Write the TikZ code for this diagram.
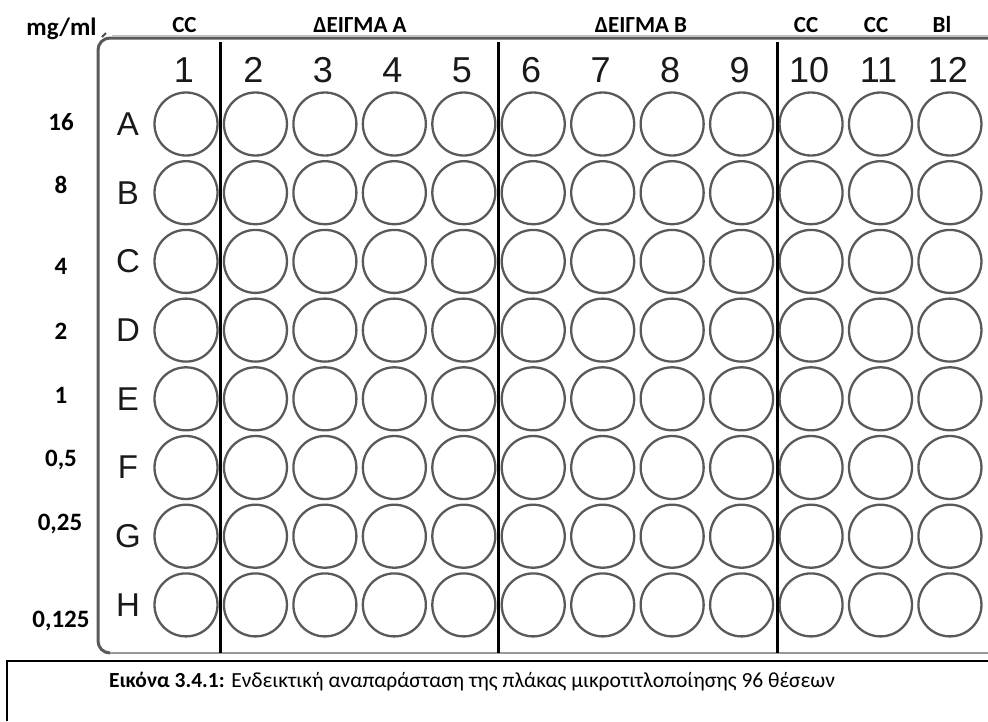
\documentclass[tikz,border=0pt]{standalone}
\usepackage{fontspec}
\setmainfont{Carlito}
\newfontfamily\arialfont{Liberation Sans}
\begin{document}
\begin{tikzpicture}[x=1pt,y=-1pt,
  well/.style={circle,draw=black!65,line width=2.3pt,minimum size=63pt,inner sep=0pt},
  colnum/.style={font=\arialfont\fontsize{36}{36}\selectfont,text=black!90,inner sep=0pt},
  rowlet/.style={font=\arialfont\fontsize{33}{33}\selectfont,text=black!90,inner sep=0pt},
  conc/.style={font=\bfseries\fontsize{25}{25}\selectfont,inner sep=0pt},
  toplab/.style={font=\bfseries\fontsize{23}{23}\selectfont,inner sep=0pt,anchor=base},
  divider/.style={line width=3pt,black}]
\useasboundingbox (0,0) rectangle (988,721);
% plate outline
\draw[line width=1.5pt,black!25] (988,35.5) -- (112,35.5);
\draw[line width=3pt,black!65] (988,38) -- (110,38) to[out=180,in=90] (98,50);
\draw[line width=3pt,black!65] (98,50) -- (98,641) to[out=-90,in=180] (110,653);
\draw[line width=2.5pt,black!40] (110,653) -- (988,653);
\draw[line width=2pt,black!70] (102,37) -- (106,33);
% wells
\foreach \r [count=\i from 0] in {A,B,C,D,E,F,G,H}{
  \node[rowlet] (row-\r) at (128,{124+\i*68.7}) {\r};
  \foreach \c in {1,...,12}{
    \node[well] (w-\r-\c) at ({186+(\c-1)*69.45},{124+\i*68.7}) {};
  }
}
\foreach \c in {1,...,12}{
  \node[colnum] (col-\c) at ({184+(\c-1)*69.45},70) {\c};
}
% dividers
\draw[divider] (220.5,42) -- (220.5,653);
\draw[divider] (498.5,42) -- (498.5,653);
\draw[divider] (777,42) -- (777,653);
% top labels
\node[toplab] (lab-cc1) at (184.5,32) {CC};
\node[toplab] (lab-a) at (360,32) {ΔΕΙΓΜΑ A};
\node[toplab] (lab-b) at (641,32) {ΔΕΙΓΜΑ B};
\node[toplab] (lab-cc10) at (806,32) {CC};
\node[toplab] (lab-cc11) at (876,32) {CC};
\node[toplab] (lab-bl) at (942,32) {Bl};
% concentrations
\node[conc,anchor=base] (mgml) at (61.5,35) {mg/ml};
\node[conc,anchor=base] (c16) at (61,130) {16};
\node[conc,anchor=base] (c8) at (61,193) {8};
\node[conc,anchor=base] (c4) at (61,274) {4};
\node[conc,anchor=base] (c2) at (61,339) {2};
\node[conc,anchor=base] (c1) at (61,403) {1};
\node[conc,anchor=base] (c05) at (61,466) {0,5};
\node[conc,anchor=base] (c025) at (60,530) {0,25};
\node[conc,anchor=base] (c0125) at (61,627) {0,125};
% caption box
\draw[line width=1.5pt] (7,721) -- (7,661) -- (988,661);
\node[font=\fontsize{21.5}{21.5}\selectfont,inner sep=0pt,anchor=base] (caption) at (472,687)
  {\textbf{Εικόνα 3.4.1:} Ενδεικτική αναπαράσταση της πλάκας μικροτιτλοποίησης 96 θέσεων};
\end{tikzpicture}
\end{document}
